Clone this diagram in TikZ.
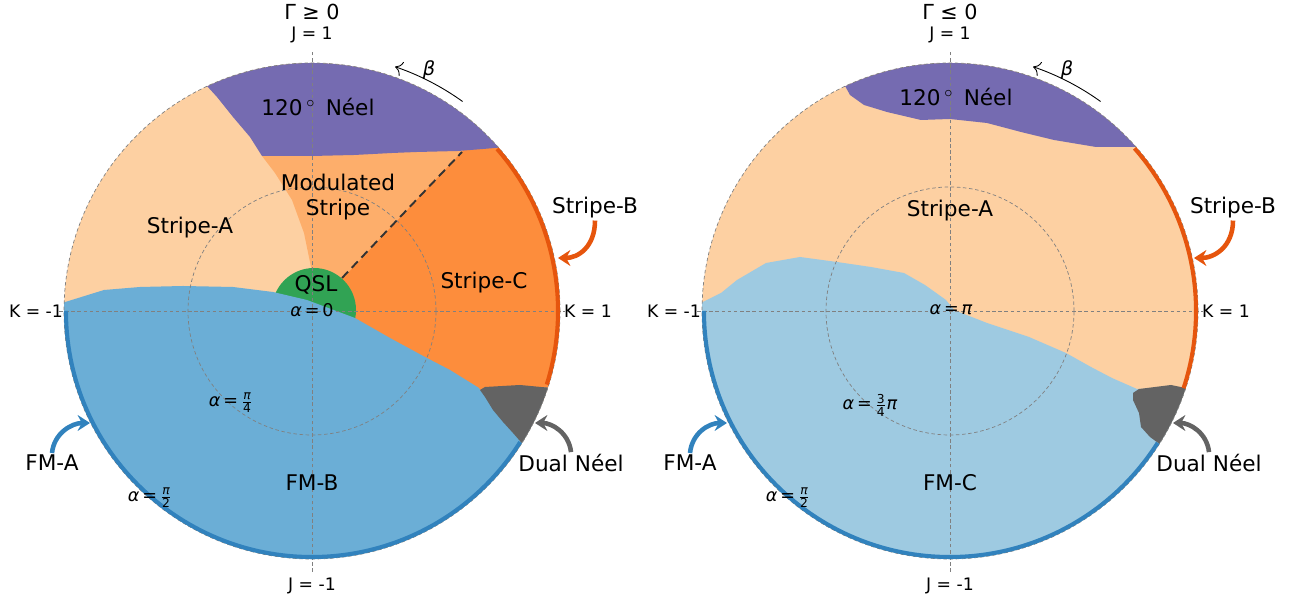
\documentclass[tikz,border=0pt]{standalone}
\usepackage{fontspec}
\setmainfont{DejaVu Sans}
\usepackage{amsmath}
\usetikzlibrary{arrows.meta, calc}

\definecolor{stripeA}{HTML}{FDD0A2}
\definecolor{modStripe}{HTML}{FDAE6B}
\definecolor{stripeC}{HTML}{FD8D3C}
\definecolor{stripeB}{HTML}{E6550D}
\definecolor{neel}{HTML}{756BB1}
\definecolor{fmB}{HTML}{6BAED6}
\definecolor{fmC}{HTML}{9ECAE1}
\definecolor{fmA}{HTML}{3182BD}
\definecolor{dualNeel}{HTML}{636363}
\definecolor{qsl}{HTML}{31A354}

\begin{document}
\begin{tikzpicture}[x=0.02cm, y=0.02cm, >=Stealth]
    \tikzset{
		phase/.style={font=\fontsize{12.3}{14.5}\selectfont, align=center, inner sep=1pt},
		axis/.style={font=\fontsize{9.8}{12}\selectfont, inner sep=1pt},
		alpha/.style={font=\fontsize{10}{12}\selectfont, inner sep=1pt},
		gridline/.style={draw=gray, line width=0.4pt, dash pattern=on 2pt off 1.5pt},
		edgearc/.style={line width=2.3pt},
		pointer/.style={line width=2.6pt, -{Stealth[length=7pt, width=9pt]}},
		betaarrow/.style={line width=0.5pt, -{To[length=4pt]}}
	}
	\useasboundingbox (0,0) rectangle (1309,604);

	% ================= Gamma >= 0 =================
	\begin{scope}[shift={(312,293)}]
	% --- Fases ---
	\fill[stripeA] (0,0) circle (248);
	\fill[modStripe] (-50,155) -- (-37,138) -- (-20,111) -- (-8,78) -- (-1,44) -- (0,0) -- (160,170) -- (-50,175) -- cycle;
	\fill[stripeC] (0,0) -- (160,170) -- (41.2:248) arc[start angle=41.2, end angle=-40, radius=248] -- cycle;
	\fill[neel] (115:248) -- (-95,214) -- (-79,194) -- (-62,174) -- (-50,155) -- (-20,155) -- (0,155) -- (42,156) -- (80,158)
		-- (105,159) -- (146,160) -- (171,162) -- (41.2:248) arc[start angle=41.2, end angle=115, radius=248] -- cycle;
	\fill[qsl] (2,1) circle (42);
	\fill[fmB] (178:248) -- (-208,21) -- (-172,24) -- (-129,25) -- (-79,24) -- (-39,19) -- (-5,11) -- (43,-7) -- (78,-27)
		-- (113,-46) -- (138,-59) -- (167,-77) -- (168,-79) -- (-18:248) arc[start angle=-18, end angle=-182, radius=248] -- cycle;
	\fill[dualNeel] (168,-79) -- (173,-76) -- (208,-74) -- (-18:248) arc[start angle=-18, end angle=-32.2, radius=248]
		-- (201,-122) -- (191,-111) -- (181,-99) -- (173,-86) -- cycle;

	% --- Rejilla polar ---
	\draw[gridline] (0,0) circle (124);
	\draw[gridline] (0,0) circle (248);
	\draw[gridline] (-253,0) -- (253,0);
	\draw[gridline] (0,-261) -- (0,261);

	% --- Bordes Stripe-B y FM-A ---
	\draw[stripeB, edgearc] (41.2:246) arc[start angle=41.2, end angle=-17.4, radius=246];
	\draw[fmA, edgearc] (180:246) arc[start angle=180, end angle=327.8, radius=246];

	% --- Linea discontinua ---
	\coordinate (dashS) at (30,33);
	\coordinate (dashE) at (150,159);
	\draw[black!80, line width=1.1pt, dash pattern=on 5pt off 3pt] (dashS) -- (dashE);

	% --- Etiquetas ---
	\node[phase] (neelL) at (6,204) {120\,$^\circ$\ \,Néel};
	\node[phase] (modL) at (26,114) {Modulated\\Stripe};
	\node[phase] (sAL) at (-122,83) {Stripe-A};
	\node[phase] (sCL) at (172,28) {Stripe-C};
	\node[phase] (qslL) at (4,26) {QSL};
	\node[phase] (fmBL) at (0,-172) {FM-B};
	\node[alpha] (a0L) at (0,1) {\textit{α}\,=\,0};
	\node[alpha] (a1L) at (-81,-92) {\textit{α}\,=\,$\frac{\text{\itshape π}}{\text{4}}$};
	\node[alpha] (a2L) at (-162,-187) {\textit{α}\,=\,$\frac{\text{\itshape π}}{\text{2}}$};
	\node[phase, font=\fontsize{11.8}{13}\selectfont] (gamL) at (0,299) {Γ ≥ 0};
	\node[axis] (jtL) at (0,276) {J = 1};
	\node[axis] (jbL) at (0,-275) {J = -1};
	\node[axis] (klL) at (-276,0) {K = -1};
	\node[axis] (krL) at (276,0) {K = 1};

	% --- beta ---
	\draw[betaarrow] (54.3:258) arc[start angle=54.3, end angle=71.2, radius=258];
	\node[alpha, font=\fontsize{11}{13}\selectfont] (betaL) at (117,241) {\textit{β}};

	% --- Flechas a los bordes ---
	\node[phase] (sBL) at (283,103) {Stripe-B};
	\coordinate (sBLtip) at (246,53);
	\draw[pointer, stripeB] (sBL.south) .. controls (283,64) and (266,53) .. (sBLtip);
	\node[phase] (fmAL) at (-260,-152) {FM-A};
	\coordinate (fmALtip) at (-222,-112);
	\draw[pointer, fmA] (fmAL.north) .. controls (-258,-122) and (-240,-112) .. (fmALtip);
	\node[phase] (dnL) at (259,-152) {Dual Néel};
	\coordinate (dnLtip) at (223,-112);
	\draw[pointer, dualNeel] (dnL.north) .. controls (257,-122) and (240,-112) .. (dnLtip);
	\end{scope}

	% ================= Gamma <= 0 =================
	\begin{scope}[shift={(950,293)}]
	% --- Fases ---
	\fill[stripeA] (0,0) circle (248);
	\fill[neel] (115:248) -- (-100,216) -- (-86,206) -- (-63,199) -- (-29,191) -- (0,192) -- (37,188) -- (71,179)
		-- (104,171) -- (146,164) -- (41.4:248) arc[start angle=41.4, end angle=115, radius=248] -- cycle;
	\fill[fmC] (178:248) -- (-229,18) -- (-213,31) -- (-184,48) -- (-150,54) -- (-113,49) -- (-79,44) -- (-46,38)
		-- (-25,26) -- (-4,11) -- (4,1) -- (37,-12) -- (79,-26) -- (116,-42) -- (141,-56) -- (162,-67) -- (187,-78)
		-- (-18:248) arc[start angle=-18, end angle=-182, radius=248] -- cycle;
	\fill[dualNeel] (183,-82) -- (189,-78) -- (221,-74) -- (-18.1:248) arc[start angle=-18.1, end angle=-32.4, radius=248]
		-- (200,-126) -- (191,-116) -- (189,-102) -- (183,-89) -- cycle;

	% --- Rejilla polar ---
	\draw[gridline] (0,0) circle (124);
	\draw[gridline] (0,0) circle (248);
	\draw[gridline] (-253,0) -- (253,0);
	\draw[gridline] (0,-261) -- (0,261);

	% --- Bordes Stripe-B y FM-A ---
	\draw[stripeB, edgearc] (41.4:246) arc[start angle=41.4, end angle=-18.3, radius=246];
	\draw[fmA, edgearc] (180:246) arc[start angle=180, end angle=327.6, radius=246];

	% --- Etiquetas ---
	\node[phase] (neelR) at (6,214) {120\,$^\circ$\ \,Néel};
	\node[phase] (sAR) at (0,100) {Stripe-A};
	\node[phase] (fmCR) at (0,-172) {FM-C};
	\node[alpha] (a0R) at (1,1) {\textit{α}\,=\,\textit{π}};
	\node[alpha] (a1R) at (-80,-94) {\textit{α}\,=\,$\frac{\text{3}}{\text{4}}$\textit{π}};
	\node[alpha] (a2R) at (-162,-187) {\textit{α}\,=\,$\frac{\text{\itshape π}}{\text{2}}$};
	\node[phase, font=\fontsize{11.8}{13}\selectfont] (gamR) at (0,299) {Γ ≤ 0};
	\node[axis] (jtR) at (0,276) {J = 1};
	\node[axis] (jbR) at (0,-275) {J = -1};
	\node[axis] (klR) at (-276,0) {K = -1};
	\node[axis] (krR) at (276,0) {K = 1};

	% --- beta ---
	\draw[betaarrow] (54.3:258) arc[start angle=54.3, end angle=71.2, radius=258];
	\node[alpha, font=\fontsize{11}{13}\selectfont] (betaR) at (117,241) {\textit{β}};

	% --- Flechas a los bordes ---
	\node[phase] (sBR) at (283,103) {Stripe-B};
	\coordinate (sBRtip) at (244,53);
	\draw[pointer, stripeB] (sBR.south) .. controls (283,64) and (264,53) .. (sBRtip);
	\node[phase] (fmAR) at (-260,-152) {FM-A};
	\coordinate (fmARtip) at (-223,-112);
	\draw[pointer, fmA] (fmAR.north) .. controls (-258,-122) and (-241,-112) .. (fmARtip);
	\node[phase] (dnR) at (259,-152) {Dual Néel};
	\coordinate (dnRtip) at (223,-112);
	\draw[pointer, dualNeel] (dnR.north) .. controls (257,-122) and (240,-112) .. (dnRtip);
	\end{scope}
\end{tikzpicture}
\end{document}
